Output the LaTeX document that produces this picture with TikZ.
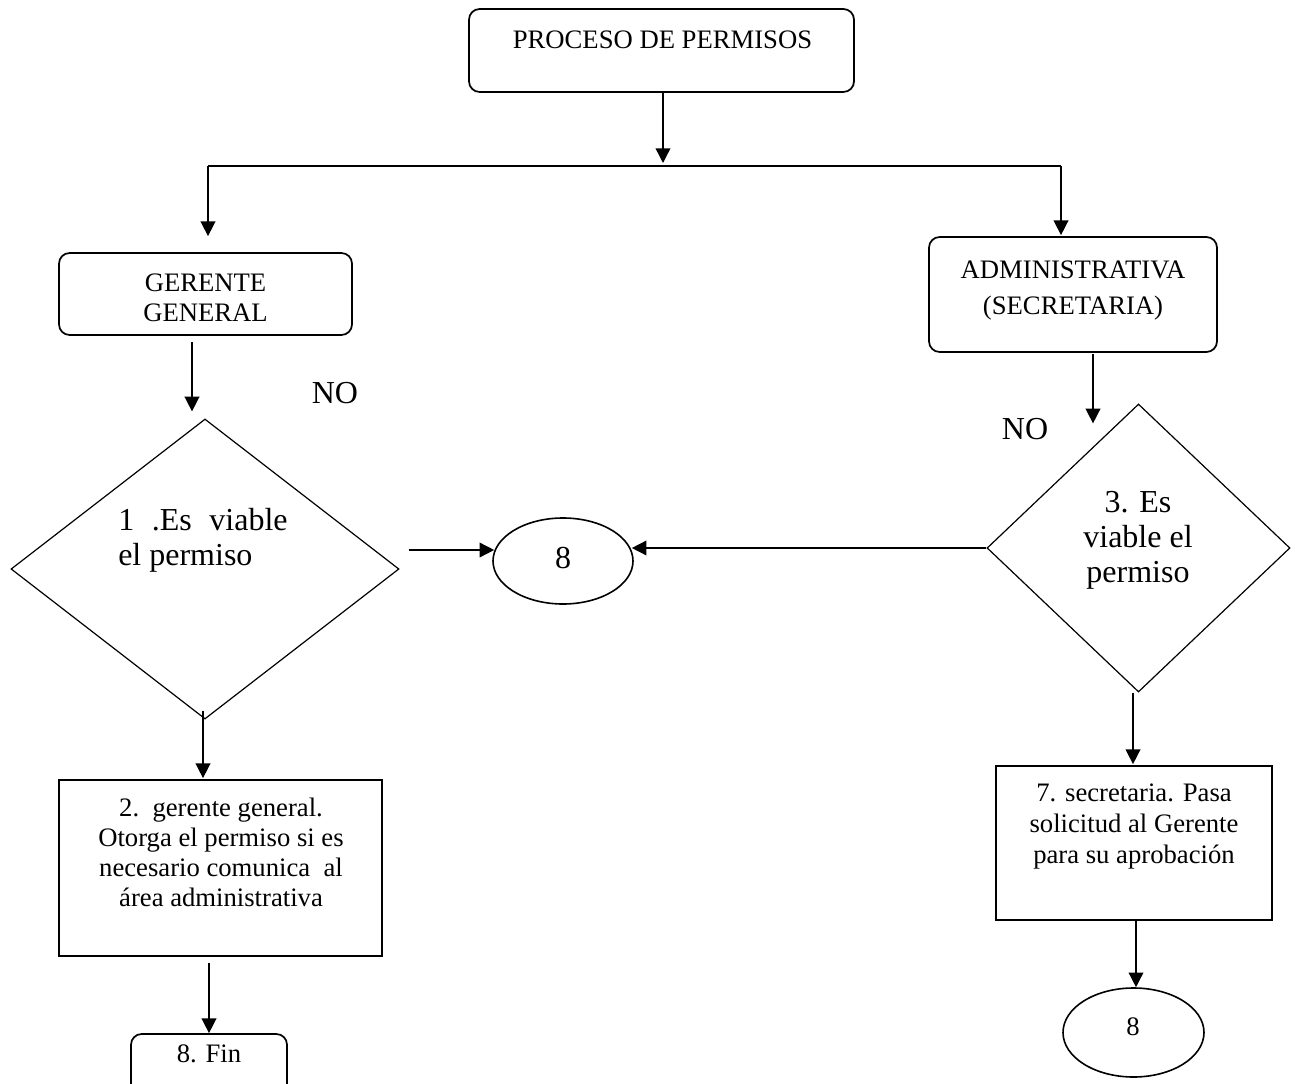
\documentclass[tikz,border=0pt]{standalone}
\usepackage{fontspec}
\setmainfont{Liberation Serif}
\usetikzlibrary{shapes.geometric,arrows.meta,calc}
\begin{document}
\begin{tikzpicture}[x=0.75pt,y=-0.75pt,
  rbox/.style={draw, rectangle, rounded corners=8pt, line width=1.3pt, inner sep=0pt},
  sbox/.style={draw, rectangle, line width=1.3pt, inner sep=0pt},
  dmd/.style={draw, diamond, inner sep=0pt, line width=0.9pt},
  ell/.style={draw, ellipse, inner sep=0pt, line width=1.2pt},
  conn/.style={line width=1.1pt},
  txt/.style={font=\fontsize{20pt}{22.5pt}\selectfont, align=center, inner sep=0pt},
  big/.style={font=\fontsize{24pt}{26.25pt}\selectfont, align=center, inner sep=0pt},
  arr/.style={-{Triangle[length=11pt,width=11pt]}, line width=1.1pt}]
\useasboundingbox (0,0) rectangle (1295,1084);

% boxes (text nodes anchored at the baseline of their last line)
\node[rbox, minimum width=288.75pt, minimum height=62.25pt] (top) at (661.5,50.5) {};
\node[txt, anchor=base] (ttop) at (662.5,49) {PROCESO DE PERMISOS};

\node[rbox, minimum width=219.75pt, minimum height=61.5pt] (gg) at (205.5,294) {};
\node[txt, anchor=base] (tgg) at (205.5,321) {GERENTE\\GENERAL};

\node[rbox, minimum width=216pt, minimum height=86.25pt] (ad) at (1073,294.5) {};
\node[txt, anchor=base, font=\fontsize{20pt}{27pt}\selectfont] (tad) at (1073,314) {ADMINISTRATIVA\\(SECRETARIA)};

\node[dmd, minimum width=291pt, minimum height=225pt] (d1) at (205,569) {};
\node[big, align=left, anchor=base west] (td1) at (118,565) {1\hspace{0.55em}.Es\hspace{0.55em}viable\\el permiso};

\node[dmd, minimum width=227.25pt, minimum height=216pt] (d3) at (1138.5,548) {};
\node[big, anchor=base] (td3) at (1138,582) {3. Es\\viable el\\permiso};

\node[ell, minimum width=105pt, minimum height=64.5pt] (e1) at (563,561) {};
\node[big, anchor=base] (te1) at (563,568) {8};

\node[sbox, minimum width=242.25pt, minimum height=132pt] (b2) at (220.5,868) {};
\node[txt, anchor=base] (tb2) at (221,906) {2.\ \ gerente general.\\Otorga el permiso si es\\necesario comunica\ \ al\\área administrativa};

\node[rbox, minimum width=117pt, minimum height=46.5pt] (fin) at (209,1065) {};
\node[txt, anchor=base] (tfin) at (209,1062) {8. Fin};

\node[sbox, minimum width=207pt, minimum height=115.5pt] (b7) at (1134,843) {};
\node[txt, anchor=base, font=\fontsize{20pt}{23pt}\selectfont] (tb7) at (1134,863) {7. secretaria. Pasa\\solicitud al Gerente\\para su aprobación};

\node[ell, minimum width=105.75pt, minimum height=66.75pt] (e2) at (1133.5,1032.5) {};
\node[txt, anchor=base] (te2) at (1133,1035) {8};

\node[big, anchor=base] (no1) at (335,403) {NO};
\node[big, anchor=base] (no2) at (1025,439) {NO};

% connectors
\coordinate (jl) at (208,166);
\coordinate (jr) at (1061,166);
\coordinate (jm) at (663,166);
\draw[conn] (jl) -- (jr);
\draw[arr] (top.south -| jm) -- ($(jm)+(0,-3)$);
\draw[arr] (jl) -- ($(jl |- gg.north)+(0,-16)$);
\draw[arr] (jr) -- ($(jr |- ad.north)+(0,-1)$);
\draw[arr] ($(gg.south)+(-13.5,6)$) -- ($(d1.north)+(-13,-7)$);
\draw[arr] ($(ad.south)+(20,1)$) -- ($(d3.north)+(-45.5,20)$);
\coordinate (e1in) at ($(e1.west)+(2,-11)$);
\draw[arr] ($(d1.east |- e1in)+(9,0)$) -- (e1in);
\draw[arr] (d3.west) -- ($(d3.west -| e1.east)+(-2,0)$);
\draw[arr] ($(d1.south)+(-2,-9)$) -- ($(b2.north)+(-17.5,-1)$);
\draw[arr] ($(b2.south)+(-11.5,6)$) -- (fin.north);
\draw[arr] ($(d3.south)+(-5.5,0)$) -- ($(b7.north)+(-1,-1)$);
\draw[arr] ($(b7.south)+(2,0)$) -- ($(e2.north)+(2.5,0)$);
\end{tikzpicture}
\end{document}
